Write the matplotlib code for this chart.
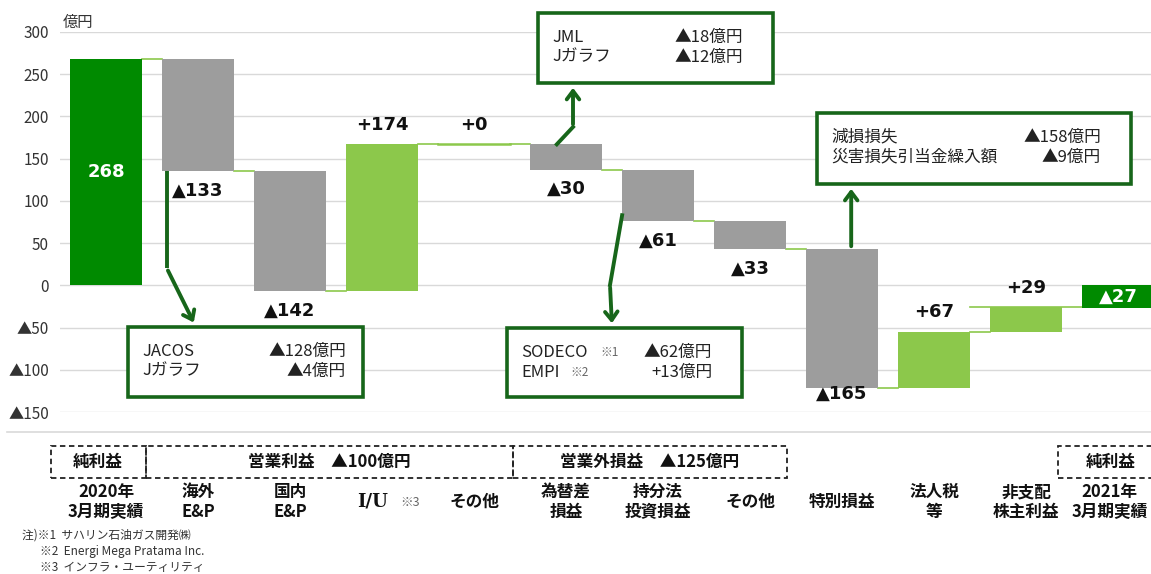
import matplotlib
matplotlib.use("Agg")
import matplotlib.pyplot as plt
from matplotlib.patches import Rectangle
from matplotlib.transforms import blended_transform_factory

plt.rcParams["font.family"] = ["Noto Sans CJK JP", "DejaVu Sans"]
NUMFONT = ["DejaVu Sans", "Noto Sans CJK JP"]

# ---- data ----
start_total = 268
end_total = -27
step_names = ["海外\nE&P", "国内\nE&P", "I/U", "その他", "為替差\n損益", "持分法\n投資損益",
              "その他", "特別損益", "法人税\n等", "非支配\n株主利益"]
step_deltas = [-133, -142, 174, 0, -30, -61, -33, -165, 67, 29]
first_name = "2020年\n3月期実績"
last_name = "2021年\n3月期実績"
yticks = [-150, -100, -50, 0, 50, 100, 150, 200, 250, 300]

groups = [("純利益", -0.6, 0.43), ("営業利益　▲100億円", 0.43, 4.42),
          ("営業外損益　▲125億円", 4.42, 7.4), ("純利益", 10.35, 11.5)]

callouts = [
    (["JACOS", "Jガラフ"], ["▲128億円", "▲4億円"]),
    (["JML", "Jガラフ"], ["▲18億円", "▲12億円"]),
    (["SODECO", "EMPI"], ["▲62億円", "+13億円"]),
    (["減損損失", "災害損失引当金繰入額"], ["▲158億円", "▲9億円"]),
]

DARK = "#008A00"
LIGHT = "#8CC84B"
GREY = "#9D9D9D"
BOXC = "#17661A"

W, H = 1151, 574
fig = plt.figure(figsize=(W / 100, H / 100), dpi=100)
ax = fig.add_axes([60 / W, (H - 412) / H, (W - 60) / W, 380 / H])
ax.set_xlim(-0.5, (W - 106) / 92)
ax.set_ylim(-150, 300)


def px(x, y):
    # pixel position -> data position
    return (x - 106) / 92, (285.3 - y) / 0.8444


def fmt(v):
    return f"+{v}" if v >= 0 else f"▲{-v}"


bw = 0.78
n = len(step_deltas)

# grid
for t in yticks:
    ax.axhline(t, color="#D9D9D9", lw=1, zorder=0)
ax.set_yticks(yticks)
ax.set_yticklabels([str(t) if t >= 0 else f"▲{-t}" for t in yticks], fontsize=11, color="#333333")
ax.tick_params(axis="y", length=0, pad=8)
ax.set_xticks([])
for s in ax.spines.values():
    s.set_visible(False)

# start bar
ax.bar(0, start_total, width=bw, color=DARK, zorder=2)
ax.text(0, start_total / 2, str(start_total), color="white", fontsize=13, fontweight="bold",
        family=NUMFONT, ha="center", va="center", zorder=3)

level = start_total
for i, d in enumerate(step_deltas, start=1):
    ax.plot([i - 1 + bw / 2, i - bw / 2], [level, level], color=LIGHT, lw=1.2, zorder=1)
    color = LIGHT if d >= 0 else GREY
    if d != 0:
        ax.bar(i, d, bottom=level, width=bw, color=color, zorder=2)
    else:
        ax.plot([i - bw / 2, i + bw / 2], [level, level], color=LIGHT, lw=1.8, zorder=2)
    new = level + d
    if d >= 0:
        off = 14
    else:
        off = -4 if d < -150 else -14
    ax.annotate(fmt(d), (i, new), xytext=(0, off), textcoords="offset points",
                ha="center", va="center", fontsize=13, fontweight="bold", family=NUMFONT,
                color="#111111")
    level = new

# end bar
ax.plot([n - 1 + bw / 2, n + 1 - bw / 2], [level, level], color=LIGHT, lw=1.2, zorder=1)
ax.bar(n + 1, end_total, width=bw, color=DARK, zorder=2)
ax.text(n + 1, end_total / 2, fmt(end_total), color="white", fontsize=13, fontweight="bold",
        family=NUMFONT, ha="center", va="center", zorder=3)

# callout boxes
box_px = [(128, 327, 363, 397, 17), (538, 13, 773, 83, 30),
          (507, 328, 742, 397, 30), (817, 113, 1131, 184, 30)]
for (names, vals), (x0, y0, x1, y1, rin) in zip(callouts, box_px):
    a = px(x0, y1)
    b = px(x1, y0)
    ax.add_patch(Rectangle(a, b[0] - a[0], b[1] - a[1], fill=True, facecolor="white",
                           edgecolor=BOXC, lw=2.6, zorder=4, clip_on=False))
    for k, (nm, v) in enumerate(zip(names, vals)):
        ty = y0 + 24 + k * 20
        ax.text(*px(x0 + 14, ty), nm, fontsize=12, color="#222222", ha="left", va="center",
                zorder=5, clip_on=False)
        ax.text(*px(x1 - rin, ty), v, fontsize=12, color="#222222", ha="right", va="center",
                zorder=5, clip_on=False)

# footnote marks inside SODECO box
ax.text(*px(600, 352), "※1", fontsize=8.5, color="#666666", va="center", zorder=5)
ax.text(*px(570, 372), "※2", fontsize=8.5, color="#666666", va="center", zorder=5)

# arrows
lv = [start_total]
for d in step_deltas:
    lv.append(lv[-1] + d)
akw = dict(arrowstyle="->,head_length=0.6,head_width=0.45", color=BOXC, lw=2.8)
# overseas E&P -> JACOS box
x_a = 1 - bw / 2 + 0.05
ax.plot([x_a, x_a], [lv[1], px(0, 268)[1]], color=BOXC, lw=2.8, zorder=4, solid_capstyle="butt")
ax.annotate("", xy=px(195, 325), xytext=(x_a, px(0, 268)[1]), arrowprops=akw, zorder=4)
# FX -> JML box
x_b = 5 - 0.1
ax.plot([x_b, px(573, 0)[0]], [lv[4], px(0, 127)[1]], color=BOXC, lw=2.8, zorder=4)
ax.annotate("", xy=px(573, 85), xytext=px(573, 127), arrowprops=akw, zorder=4)
# equity method -> SODECO box
x_c = 6 - bw / 2
ax.plot([x_c, px(610, 0)[0]], [lv[6] + 7, px(0, 285)[1]], color=BOXC, lw=2.8, zorder=4)
ax.annotate("", xy=px(612, 326), xytext=px(610, 285), arrowprops=akw, zorder=4)
# special loss -> impairment box
x_d = 8 + 0.1
ax.annotate("", xy=(x_d, px(0, 186)[1]), xytext=(x_d, lv[7]), arrowprops=akw, zorder=4)

# unit label
fig.text(63 / W, 1 - 22 / H, "億円", fontsize=11, color="#333333", va="center")

# separator line under chart
fig.add_artist(plt.Line2D([7 / W, 1], [1 - 432 / H, 1 - 432 / H], color="#D9D9D9", lw=1.2))

# category group boxes
tr = blended_transform_factory(ax.transData, fig.transFigure)
gy0, gy1 = 1 - 478 / H, 1 - 446 / H
for label, xa, xb in groups:
    r = Rectangle((xa, gy0), xb - xa, gy1 - gy0, transform=tr, fill=False, edgecolor="#222222",
                  lw=1.3, ls=(0, (3, 2)), clip_on=False)
    fig.add_artist(r)
    fig.text((xa + xb) / 2, (gy0 + gy1) / 2, label, transform=tr, ha="center", va="center",
             fontsize=12, fontweight="bold", color="#111111")

# category labels
all_names = [first_name] + step_names + [last_name]
for i, nm in enumerate(all_names):
    if nm == "I/U":
        fig.text(3.07, 1 - 502 / H, nm, transform=tr, ha="right", va="center", fontsize=13,
                 fontweight="bold", family=["DejaVu Serif"], color="#111111")
        fig.text(3.2, 1 - 502 / H, "※3", transform=tr, ha="left", va="center", fontsize=9,
                 color="#666666")
        continue
    xi = i - 0.09 if i == len(all_names) - 1 else i
    fig.text(xi, 1 - 502 / H, nm, transform=tr, ha="center", va="center", fontsize=12,
             fontweight="bold", color="#111111", linespacing=1.15)

# footnotes
fig.text(22 / W, 1 - 535 / H, "注)※1  サハリン石油ガス開発㈱", fontsize=8.5, color="#333333", va="center")
fig.text(40 / W, 1 - 552 / H, "※2  Energi Mega Pratama Inc.", fontsize=8.5, color="#333333", va="center")
fig.text(40 / W, 1 - 568 / H, "※3  インフラ・ユーティリティ", fontsize=8.5, color="#333333", va="center")

fig.savefig("out.png", dpi=100)
